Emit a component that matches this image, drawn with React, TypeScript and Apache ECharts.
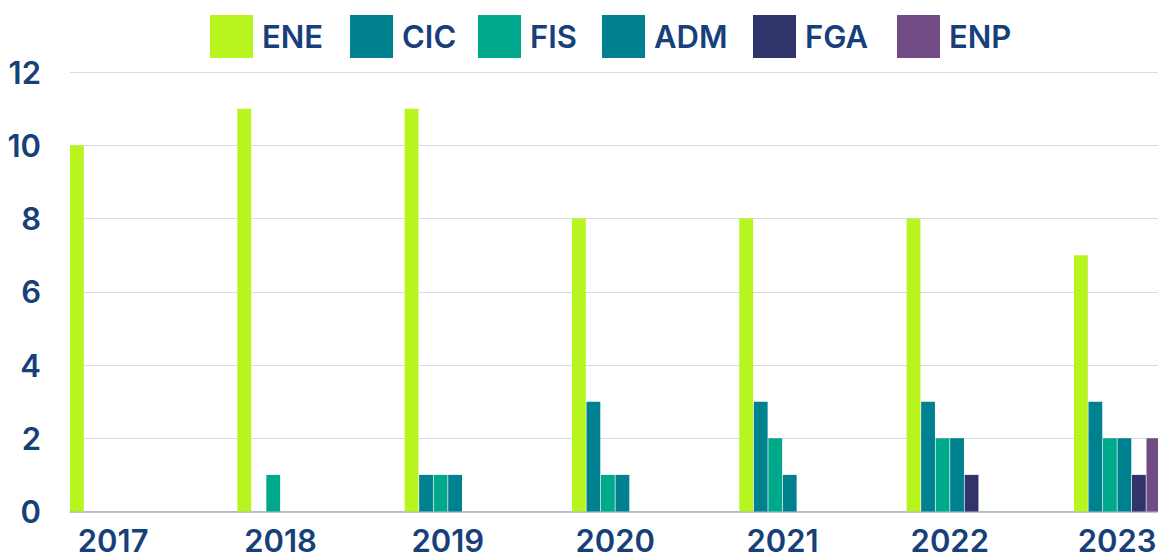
import React, { useEffect, useRef } from "react";
import * as echarts from "echarts";

const years = ["2017", "2018", "2019", "2020", "2021", "2022", "2023"];
const seriesNames = ["ENE", "CIC", "FIS", "ADM", "FGA", "ENP"];
const ene = [10, 11, 11, 8, 8, 8, 7];
const cic = [0, 0, 1, 3, 3, 3, 3];
const fis = [0, 1, 1, 1, 2, 2, 2];
const adm = [0, 0, 1, 1, 1, 2, 2];
const fga = [0, 0, 0, 0, 0, 1, 1];
const enp = [0, 0, 0, 0, 0, 0, 2];
const colors = ["#B8F41E", "#00818F", "#00A98C", "#00818F", "#31346B", "#714B84"];
const legendLefts = [210, 350, 478, 602, 753, 897];

const TEXT = "#173F7A";
const FONT = "Inter, 'Noto Sans', sans-serif";

export default function App() {
  const ref = useRef<HTMLDivElement>(null);
  useEffect(() => {
    if (!ref.current) return;
    const chart = echarts.init(ref.current, null, { renderer: "svg" });
    const values = [ene, cic, fis, adm, fga, enp];
    chart.setOption({
      animation: false,
      legend: seriesNames.map((name, i) => ({
        left: legendLefts[i],
        top: 15,
        padding: 0,
        itemWidth: 43,
        itemHeight: 43,
        icon: "rect",
        data: [name],
        textStyle: {
          color: TEXT,
          fontSize: 31,
          fontWeight: 600,
          fontFamily: FONT,
          padding: [0, 0, 0, 4],
        },
      })),
      grid: [
        { left: 70, right: 52, top: 72, bottom: 45.5, containLabel: false, outerBoundsMode: "none" },
        { left: 29.5, right: 9.2, top: 72, bottom: 45.5, containLabel: false, outerBoundsMode: "none" },
      ],
      xAxis: [
        {
          gridIndex: 0,
          type: "category",
          data: years,
          axisLine: { show: true, lineStyle: { color: "#A7B3C9", width: 1.5 } },
          axisTick: { show: false },
          axisLabel: { show: false },
          splitLine: { show: false },
        },
        {
          gridIndex: 1,
          type: "category",
          data: years,
          axisLine: { show: false },
          axisTick: { show: false },
          axisLabel: {
            color: TEXT,
            fontSize: 31,
            fontWeight: 600,
            fontFamily: FONT,
            margin: 13,
          },
        },
      ],
      yAxis: [
        {
          gridIndex: 0,
          type: "value",
          min: 0,
          max: 12,
          interval: 2,
          axisLine: { show: false },
          axisTick: { show: false },
          splitLine: { lineStyle: { color: "#D5DBE6", width: 1.2 } },
          axisLabel: {
            color: TEXT,
            fontSize: 31,
            fontWeight: 600,
            fontFamily: FONT,
            margin: 29,
          },
        },
        {
          gridIndex: 1,
          type: "value",
          min: 0,
          max: 12,
          interval: 2,
          show: false,
          splitLine: { show: false },
        },
      ],
      series: seriesNames.map((name, i) => ({
        name,
        type: "bar",
        xAxisIndex: 1,
        yAxisIndex: 1,
        data: values[i],
        barGap: "5%",
        barCategoryGap: "48.4%",
        itemStyle: { color: colors[i] },
      })),
    });
    return () => chart.dispose();
  }, []);
  return (
    <div style={{ position: "absolute", left: 0, top: 0, width: 1158, height: 557, overflow: "hidden" }}>
      <div ref={ref} style={{ width: 1210, height: 557 }} />
    </div>
  );
}
